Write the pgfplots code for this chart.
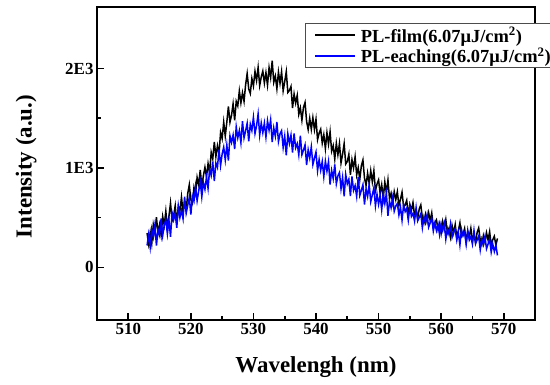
\documentclass[border=0pt]{standalone}
\usepackage{pgfplots}
\pgfplotsset{compat=1.18}
\usepackage{pgfplotstable}
\usepackage{fontspec}
\setmainfont{Liberation Serif}

\pgfplotstableread{
x film etch
513.00 345 220
513.25 235 331
513.50 350 202
513.75 240 384
514.00 430 305
514.25 347 426
514.50 505 218
514.75 342 384
515.00 430 325
515.25 322 492
515.50 510 320
515.75 422 423
516.00 565 480
516.25 397 337
516.50 515 475
516.75 647 308
517.00 470 550
517.25 522 477
517.50 620 545
517.75 437 398
518.00 615 615
518.25 564 501
518.50 707 572
518.75 556 489
519.00 660 710
519.25 574 546
519.50 742 622
519.75 831 704
520.00 680 530
520.25 645 716
520.50 805 667
520.75 740 814
521.00 905 670
521.25 830 766
521.50 980 863
521.75 815 709
522.00 920 855
522.25 1006 785
522.50 912 910
522.75 1044 795
523.00 950 990
523.25 1157 926
523.50 1090 1062
523.75 1262 869
524.00 1115 1050
524.25 1224 1005
524.50 1142 1185
524.75 1356 1025
525.00 1295 1140
525.25 1462 1210
525.50 1320 1080
525.75 1462 1230
526.00 1620 1075
526.25 1460 1324
526.50 1530 1257
526.75 1645 1331
527.00 1480 1190
527.25 1670 1414
527.50 1625 1303
527.75 1775 1376
528.00 1655 1255
528.25 1757 1471
528.50 1670 1303
528.75 1837 1374
529.00 1950 1450
529.25 1795 1268
529.50 1750 1440
529.75 1900 1377
530.00 1825 1510
530.25 1972 1347
530.50 1880 1425
530.75 2012 1543
531.00 1830 1330
531.25 1915 1453
531.50 1975 1355
531.75 1855 1452
532.00 1960 1310
532.25 1835 1475
532.50 2010 1380
532.75 1910 1485
533.00 2080 1260
533.25 1862 1403
533.50 1925 1320
533.75 1797 1462
534.00 1965 1265
534.25 1852 1343
534.50 1970 1375
534.75 1777 1207
535.00 1870 1320
535.25 1970 1128
535.50 1760 1345
535.75 1780 1247
536.00 1820 1330
536.25 1602 1156
536.50 1745 1347
536.75 1652 1204
537.00 1730 1245
537.25 1540 1132
537.50 1605 1325
537.75 1480 1133
538.00 1610 1180
538.25 1659 1232
538.50 1468 1030
538.75 1386 1183
539.00 1500 1100
539.25 1389 1212
539.50 1507 1035
539.75 1386 1098
540.00 1490 1160
540.25 1285 972
540.50 1350 1085
540.75 1390 978
541.00 1250 1065
541.25 1335 912
541.50 1195 1070
541.75 1355 968
542.00 1240 1065
542.25 1365 832
542.50 1170 975
542.75 1225 893
543.00 1090 1035
543.25 1249 840
543.50 1133 920
543.75 1246 955
544.00 1050 790
544.25 1140 905
544.50 1245 715
544.75 1040 935
545.00 1065 840
545.25 1137 886
545.50 930 718
545.75 1083 914
546.00 1000 775
546.25 1112 822
546.50 930 714
546.75 1003 911
547.00 885 723
547.25 1022 775
547.50 1080 832
547.75 898 633
548.00 825 790
548.25 947 714
548.50 845 832
548.75 973 661
549.00 860 730
549.25 972 799
549.50 770 618
549.75 838 736
550.00 880 635
550.25 744 727
550.50 832 579
550.75 696 741
551.00 860 643
551.25 750 745
551.50 879 518
551.75 688 665
552.00 745 600
552.25 650 701
552.50 762 564
552.75 681 618
553.00 761 642
553.25 622 527
553.50 684 607
553.75 756 474
554.00 610 628
554.25 627 561
554.50 674 593
554.75 527 475
555.00 632 611
555.25 573 512
555.50 652 543
555.75 525 465
556.00 575 601
556.25 493 467
556.50 588 502
556.75 628 539
557.00 500 398
557.25 448 506
557.50 534 448
557.75 462 528
558.00 550 404
558.25 470 449
558.50 547 495
558.75 404 365
559.00 450 445
559.25 478 370
559.50 381 433
559.75 441 328
560.00 344 439
560.25 461 371
560.50 386 443
560.75 479 284
561.00 348 388
561.25 392 333
561.50 303 437
561.75 421 303
562.00 345 360
562.25 431 387
562.50 300 274
562.75 369 356
563.00 448 225
563.25 311 381
563.50 335 316
563.75 391 350
564.00 251 233
564.25 363 371
564.50 310 275
564.75 394 309
565.00 271 234
565.25 326 372
565.50 249 240
565.75 351 275
566.00 396 314
566.25 273 175
566.50 228 284
566.75 319 228
567.00 252 310
567.25 348 188
567.50 275 235
567.75 359 281
568.00 224 152
568.25 278 234
568.50 313 160
568.75 223 224
569.00 291 120
}\data

\begin{document}
\begin{tikzpicture}
\useasboundingbox (-97bp,-65bp) rectangle (453bp,320bp);
\begin{axis}[
  at={(0,0)}, anchor=south west,
  scale only axis, width=438bp, height=313bp,
  xmin=505, xmax=575, ymin=-530, ymax=2620,
  xtick={510,520,...,570}, minor x tick num=1,
  ytick={0,1000,2000}, yticklabels={0,1E3,2E3}, minor y tick num=1,
  tick pos=left, tick align=inside,
  major tick length=7bp, minor tick length=4bp,
  axis line style={line width=1.8bp},
  every tick/.style={line width=1.6bp, black},
  /pgf/number format/assume math mode=true,
  /pgf/number format/1000 sep={},
  ticklabel style={font=\fontsize{17}{18}\selectfont\bfseries},
  xlabel={Wavelengh (nm)}, ylabel={Intensity (a.u.)},
  label style={font=\fontsize{23}{26}\selectfont\bfseries},
  xlabel style={at={(axis description cs:0.5,-0.15)}, anchor=center},
  ylabel style={at={(axis description cs:-0.162,0.49)}, anchor=center},
  legend style={at={(0.475,0.949)}, anchor=north west, draw=black!70, line width=0.6bp,
    font=\fontsize{18.5}{21}\selectfont\bfseries, inner xsep=2bp, inner ysep=2bp, row sep=0bp},
  legend cell align=left,
]
\addplot[black, line width=1.5bp,
  legend image code/.code={\path (-7bp,0bp); \draw[black,line width=2bp] (0bp,0bp) -- (40bp,0bp); \path (43bp,0bp);}]
  table[x=x,y=film]{\data};
\addlegendentry{PL-film(6.07μJ/cm\textsuperscript{2})}
\addplot[blue, line width=1.5bp,
  legend image code/.code={\path (-7bp,0bp); \draw[blue,line width=2bp] (0bp,0bp) -- (40bp,0bp); \path (43bp,0bp);}]
  table[x=x,y=etch]{\data};
\addlegendentry{PL-eaching(6.07μJ/cm\textsuperscript{2})}
\end{axis}
\end{tikzpicture}
\end{document}
